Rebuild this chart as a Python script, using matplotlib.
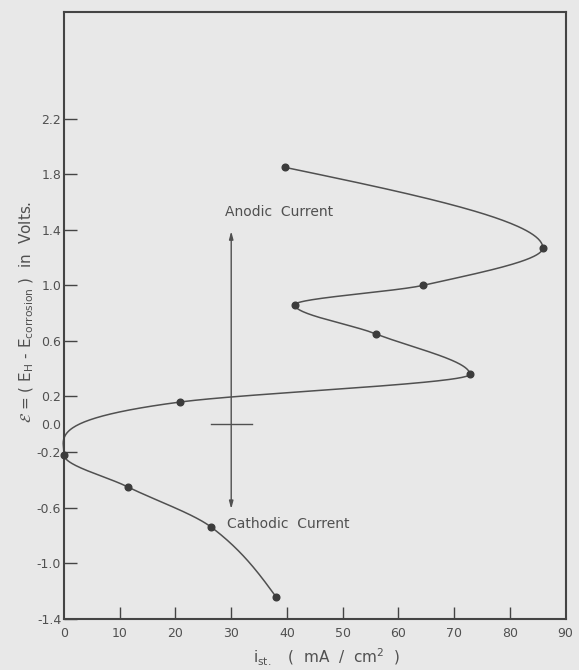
import numpy as np
import matplotlib
matplotlib.use("Agg")
import matplotlib.pyplot as plt

# ---- data (ordered along the curve, bottom to top) ----
i_st = [38.0, 26.4, 11.4, 0.0, 20.8, 72.8, 56.0, 41.4, 64.4, 85.9, 39.6]
eps = [-1.24, -0.74, -0.45, -0.22, 0.16, 0.36, 0.65, 0.86, 1.00, 1.27, 1.85]

yticks = [-1.4, -1.0, -0.6, -0.2, 0.0, 0.2, 0.6, 1.0, 1.4, 1.8, 2.2]
ytick_labels = ["-1.4", "-1.0", "-0.6", "-0.2", "0.0", "0.2", "0.6", "1.0", "1.4", "1.8", "2.2"]
xticks = [0, 10, 20, 30, 40, 50, 60, 70, 80, 90]

arrow_x = 30
arrow_top = 1.39
arrow_bottom = -0.61
cross_half = 3.7

BG = "#e8e8e8"
INK = "#444444"
TXT = "#505050"

plt.rcParams["axes.unicode_minus"] = False
plt.rcParams["font.family"] = ["DejaVu Sans"]


def smooth_x_of_y(x, y, n=80):
    """Cubic Hermite x(y); vertical tangent (dx/dy=0) at x-extrema,
    shape-preserving slopes elsewhere, natural end conditions."""
    x = np.asarray(x, float)
    y = np.asarray(y, float)
    h = np.diff(y)
    d = np.diff(x) / h
    m = np.zeros_like(x)
    for k in range(1, len(x) - 1):
        a, b = d[k - 1], d[k]
        if a * b <= 0:
            m[k] = 0.0
            continue
        ratio = max(abs(a), abs(b)) / min(abs(a), abs(b))
        if ratio > 3:
            m[k] = (h[k] * a + h[k - 1] * b) / (h[k - 1] + h[k])
        else:
            w1 = 2 * h[k] + h[k - 1]
            w2 = h[k] + 2 * h[k - 1]
            m[k] = (w1 + w2) / (w1 / a + w2 / b)
    m[0] = (3 * d[0] - m[1]) / 2
    m[-1] = (3 * d[-1] - m[-2]) / 2
    xs, ys = [], []
    for k in range(len(x) - 1):
        t = np.linspace(0, 1, n, endpoint=(k == len(x) - 2))
        h00 = 2 * t**3 - 3 * t**2 + 1
        h10 = t**3 - 2 * t**2 + t
        h01 = -2 * t**3 + 3 * t**2
        h11 = t**3 - t**2
        xs.append(h00 * x[k] + h10 * h[k] * m[k] + h01 * x[k + 1] + h11 * h[k] * m[k + 1])
        ys.append(y[k] + t * h[k])
    return np.concatenate(xs), np.concatenate(ys)


fig = plt.figure(figsize=(5.79, 6.70), dpi=100, facecolor=BG)
ax = fig.add_axes([0.1105, 0.0765, 0.8665, 0.9060], facecolor=BG)

cx, cy = smooth_x_of_y(i_st, eps)
ax.plot(cx, cy, color=TXT, lw=1.1, zorder=2, clip_on=False)
ax.plot(i_st, eps, "o", color="#3c3c3c", ms=4.8, zorder=3, clip_on=False)

# arrow and cross
ax.annotate("", xy=(arrow_x, arrow_top), xytext=(arrow_x, arrow_bottom),
            arrowprops=dict(arrowstyle="<|-|>,head_length=0.45,head_width=0.12",
                            color=TXT, lw=1.0, shrinkA=0, shrinkB=0))
ax.plot([arrow_x - cross_half, arrow_x + cross_half], [0, 0], color=TXT, lw=1.0)

ax.text(28.8, 1.53, "Anodic  Current", fontsize=10, color=TXT, ha="left", va="center")
ax.text(29.2, -0.72, "Cathodic  Current", fontsize=10, color=TXT, ha="left", va="center")

ax.set_xlim(0, 90)
ax.set_ylim(-1.4, 2.97)
ax.set_xticks(xticks)
ax.set_xticklabels([str(v) for v in xticks])
ax.set_yticks(yticks)
ax.set_yticklabels(ytick_labels)
ax.tick_params(direction="in", length=9, width=1.0, color=INK, labelcolor=TXT,
               labelsize=9)
ax.tick_params(axis="y", pad=2)
ax.tick_params(axis="x", pad=6)
for i, v in enumerate(yticks):
    if v == 0.0:
        ax.yaxis.get_major_ticks()[i].tick1line.set_visible(False)
ax.xaxis.get_major_ticks()[0].tick1line.set_visible(False)
ax.xaxis.get_major_ticks()[-1].tick1line.set_visible(False)

for s in ax.spines.values():
    s.set_color(INK)
    s.set_linewidth(1.5)

ax.set_ylabel(r"$\mathcal{E}$ = ( E$_{\rm H}$ - E$_{\rm corrosion}$ )  in  Volts.",
              fontsize=11, color=TXT, va="center")
ax.yaxis.set_label_coords(-0.074, 0.505)
ax.set_xlabel(r"i$_{\rm st.}$   (  mA  /  cm$^{2}$  )", fontsize=11, color=TXT, va="center")
ax.xaxis.set_label_coords(0.523, -0.063)

fig.savefig("out.png", dpi=100, facecolor=BG)
